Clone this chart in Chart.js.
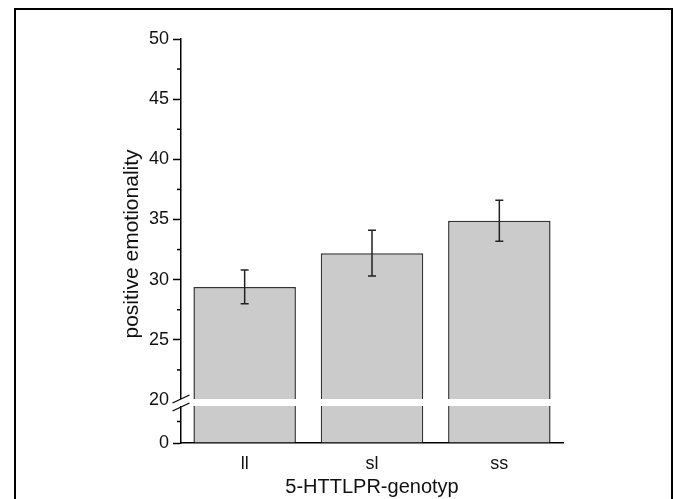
<!DOCTYPE html>
<html>
<head>
<meta charset="utf-8">
<script src="https://cdn.jsdelivr.net/npm/chart.js@4.4.0/dist/chart.umd.min.js"></script>
<style>
    html, body { margin: 0; padding: 0; background: #fff; overflow: hidden; }
    #wrap { position: relative; width: 673px; height: 499px; }
    #frame { position: absolute; left: 14px; top: 8px; width: 655px; height: 530px; border: 2px solid #000; }
    #chart { position: absolute; left: 0; top: 0; }
</style>
</head>
<body>
<div id="wrap">
    <div id="frame"></div>
    <canvas id="chart" width="673" height="499"></canvas>
</div>
<script>
// Datos
const genotypes = ['ll', 'sl', 'ss'];
const meanValues = [29.4, 32.2, 34.9];
const errorValues = [1.4, 1.9, 1.7];
const majorTicks = [0, 20, 25, 30, 35, 40, 45, 50];
const breakAt = 20;

const ink = '#111';
const fontFamily = 'Arial, "Liberation Sans", sans-serif';

// Barras de error
const errorBarsPlugin = {
    id: 'errorBars',
    afterDatasetsDraw(chart) {
        const meta = chart.getDatasetMeta(1);
        const yScale = chart.scales.yHigh;
        const ctx = chart.ctx;
        ctx.save();
        ctx.strokeStyle = '#222';
        ctx.lineWidth = 1.5;
        meta.data.forEach(function(bar, i) {
            const top = yScale.getPixelForValue(meanValues[i] + errorValues[i]);
            const bottom = yScale.getPixelForValue(meanValues[i] - errorValues[i]);
            ctx.beginPath();
            ctx.moveTo(bar.x, top);
            ctx.lineTo(bar.x, bottom);
            ctx.moveTo(bar.x - 4, top);
            ctx.lineTo(bar.x + 4, top);
            ctx.moveTo(bar.x - 4, bottom);
            ctx.lineTo(bar.x + 4, bottom);
            ctx.stroke();
        });
        ctx.restore();
    }
};

// Corte del eje, marcas menores y título del eje y
const axisBreakPlugin = {
    id: 'axisBreak',
    afterDraw(chart) {
        const ctx = chart.ctx;
        const area = chart.chartArea;
        const b = chart.scales.yHigh.bottom;
        const ax = area.left;
        ctx.save();

        // marcas menores
        ctx.strokeStyle = '#000';
        ctx.lineWidth = 1.5;
        ['yLow', 'yHigh'].forEach(function(id) {
            const scale = chart.scales[id];
            scale.ticks.forEach(function(t) {
                if (majorTicks.includes(t.value) || t.value === breakAt) return;
                const y = scale.getPixelForValue(t.value);
                ctx.beginPath();
                ctx.moveTo(ax - 4, y);
                ctx.lineTo(ax, y);
                ctx.stroke();
            });
        });

        // franja blanca del corte
        ctx.fillStyle = '#fff';
        ctx.fillRect(ax - 1, b - 1, area.right - ax + 1, 7);

        // líneas diagonales
        ctx.lineWidth = 1.2;
        ctx.beginPath();
        ctx.moveTo(ax - 8.5, b + 3);
        ctx.lineTo(ax + 8.5, b - 5);
        ctx.moveTo(ax - 8.5, b + 11);
        ctx.lineTo(ax + 8.5, b + 3);
        ctx.stroke();

        // título del eje y
        ctx.fillStyle = ink;
        ctx.font = '21px ' + fontFamily;
        ctx.textAlign = 'center';
        ctx.textBaseline = 'middle';
        ctx.translate(132, (area.top + area.bottom) / 2 + 3);
        ctx.rotate(-Math.PI / 2);
        ctx.fillText('positive emotionality', 0, 0);
        ctx.restore();
    }
};

function tickColor(ctx) {
    const v = ctx.tick.value;
    return majorTicks.includes(v) && v !== breakAt ? '#000' : 'rgba(0,0,0,0)';
}

function tickLabel(value) {
    return majorTicks.includes(value) ? value : '';
}

const ctx = document.getElementById('chart').getContext('2d');

new Chart(ctx, {
    type: 'bar',
    data: {
        labels: genotypes,
        datasets: [{
            data: meanValues.map(v => Math.min(v, breakAt)),
            yAxisID: 'yLow',
            backgroundColor: '#cbcbcb',
            borderColor: '#333',
            borderWidth: 1.5,
            grouped: false
        }, {
            data: meanValues,
            yAxisID: 'yHigh',
            base: breakAt,
            backgroundColor: '#cbcbcb',
            borderColor: '#333',
            borderWidth: 1.5,
            grouped: false
        }]
    },
    options: {
        responsive: false,
        animation: false,
        devicePixelRatio: 1,
        layout: {
            padding: { left: 0, right: 110, top: 39, bottom: 0 }
        },
        datasets: {
            bar: { categoryPercentage: 1, barPercentage: 0.805 }
        },
        plugins: {
            legend: { display: false },
            tooltip: { enabled: false }
        },
        scales: {
            x: {
                grid: { display: false, drawTicks: false },
                border: { display: true, color: '#000', width: 1.5 },
                ticks: { color: ink, font: { family: fontFamily, size: 18 }, padding: 10 },
                title: {
                    display: true,
                    text: '5-HTTLPR-genotyp',
                    color: ink,
                    font: { family: fontFamily, size: 20 },
                    padding: { top: 0, bottom: 0 }
                },
                afterFit: function(scale) { scale.height = 56; }
            },
            yLow: {
                type: 'linear',
                position: 'left',
                stack: 'y',
                stackWeight: 43,
                min: 0,
                max: breakAt,
                border: { color: '#000', width: 1.5 },
                grid: { drawOnChartArea: false, tickLength: 8, tickWidth: 1.5, tickColor: tickColor },
                ticks: {
                    stepSize: 10,
                    autoSkip: false,
                    padding: 4,
                    color: ink,
                    font: { family: fontFamily, size: 18 },
                    callback: v => v < breakAt ? tickLabel(v) : ''
                },
                afterFit: function(scale) { scale.width = 181; }
            },
            yHigh: {
                type: 'linear',
                position: 'left',
                stack: 'y',
                stackWeight: 361,
                min: breakAt,
                max: 50,
                border: { color: '#000', width: 1.5 },
                grid: { drawOnChartArea: false, tickLength: 8, tickWidth: 1.5, tickColor: tickColor },
                ticks: {
                    stepSize: 2.5,
                    autoSkip: false,
                    padding: 4,
                    color: ink,
                    font: { family: fontFamily, size: 18 },
                    callback: tickLabel
                },
                afterFit: function(scale) { scale.width = 181; }
            }
        }
    },
    plugins: [errorBarsPlugin, axisBreakPlugin]
});
</script>
</body>
</html>
